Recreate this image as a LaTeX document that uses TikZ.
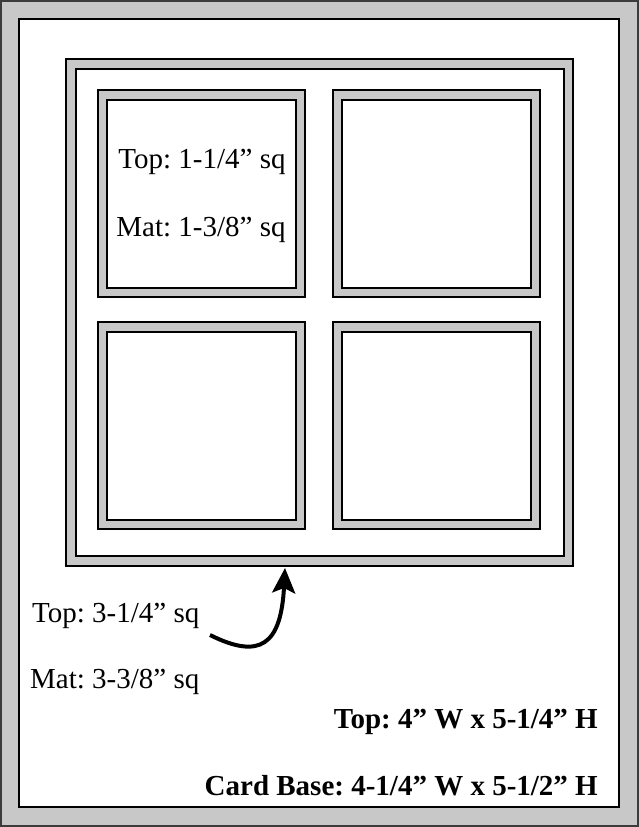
\documentclass[tikz,border=0pt]{standalone}
\usepackage{fontspec}
\setmainfont{Liberation Serif}
\usetikzlibrary{arrows.meta}
\definecolor{matgray}{RGB}{200,200,200}
\definecolor{edgegray}{RGB}{60,60,60}
\tikzset{
  matbox/.style={draw=black, fill=matgray, line width=2bp, inner sep=0pt, outer sep=0pt, anchor=north west},
  topbox/.style={draw=black, fill=white, line width=2bp, inner sep=0pt, outer sep=0pt, anchor=north west},
  lbl/.style={inner sep=0pt, font=\fontsize{29bp}{32bp}\selectfont\frenchspacing},
  blbl/.style={inner sep=0pt, font=\fontsize{29bp}{32bp}\selectfont\bfseries\frenchspacing, anchor=base east},
  curvearrow/.style={line width=4bp, -{Stealth[length=25bp,width=23bp,inset=5bp]}}
}
\begin{document}
\begin{tikzpicture}[x=1bp,y=-1bp]
\useasboundingbox (0,0) rectangle (639,827);
% card base
\node[matbox, draw=edgegray, minimum width=637bp, minimum height=825bp] (card) at (1,1) {};
\node[topbox, minimum width=600bp, minimum height=788bp] (cardtop) at (19,19) {};
% big mat
\node[matbox, minimum width=507bp, minimum height=507bp] (bigmat) at (66,59) {};
\node[topbox, minimum width=488bp, minimum height=487bp] (bigtop) at (75.5,69) {};
% small mats
\node[matbox, minimum width=207bp, minimum height=207bp] (mat1) at (98,90) {};
\node[topbox, minimum width=189bp, minimum height=188bp] (top1) at (107,99.5) {};
\node[matbox, minimum width=207bp, minimum height=207bp] (mat2) at (333,90) {};
\node[topbox, minimum width=189bp, minimum height=188bp] (top2) at (342,99.5) {};
\node[matbox, minimum width=207bp, minimum height=207bp] (mat3) at (98,322) {};
\node[topbox, minimum width=189bp, minimum height=188bp] (top3) at (107,331.5) {};
\node[matbox, minimum width=207bp, minimum height=207bp] (mat4) at (333,322) {};
\node[topbox, minimum width=189bp, minimum height=188bp] (top4) at (342,331.5) {};
% labels in first square
\node[lbl, anchor=base] (t1) at (202,168) {Top: 1-1/4” sq};
\node[lbl, anchor=base] (t2) at (201,236) {Mat: 1-3/8” sq};
% labels for big mat
\node[lbl, anchor=base west] (t3) at (32,622) {Top: 3-1/4” sq};
\node[lbl, anchor=base west] (t4) at (30,688) {Mat: 3-3/8” sq};
% card labels
\node[blbl] (t5) at (598,728) {Top: 4” W x 5-1/4” H};
\node[blbl] (t6) at (598,795) {Card Base: 4-1/4” W x 5-1/2” H};
% arrow
\coordinate (arrstart) at (210,635);
\coordinate (arrtip) at ([xshift=-34.5bp,yshift=-2bp]bigmat.south);
\draw[curvearrow] (arrstart) .. controls (260,660) and (281,645) .. (arrtip);
\end{tikzpicture}
\end{document}
